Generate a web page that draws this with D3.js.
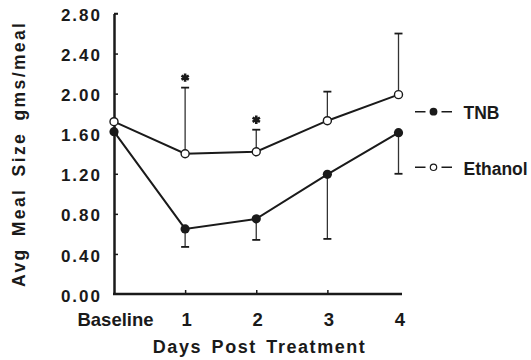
<!DOCTYPE html>
<html>
<head>
<meta charset="utf-8">
<script src="https://cdn.jsdelivr.net/npm/d3@7"></script>
<style>
  body { margin: 0; background: #fff; }
  svg { display: block; font-family: "Liberation Sans", Arial, sans-serif; font-weight: bold; }
  .axis path, .axis line { stroke: #1a1a1a; }
  .axis text { fill: #1a1a1a; font-weight: bold; }
</style>
</head>
<body>
<svg id="chart"></svg>
<script>
// data
const days = ['Baseline', '1', '2', '3', '4'];
const ethanol = [1.72, 1.40, 1.42, 1.73, 1.99];
const ethanolErrTop = [null, 2.06, 1.64, 2.02, 2.60];
const tnb = [1.62, 0.65, 0.75, 1.195, 1.61];
const tnbErrBottom = [null, 0.47, 0.54, 0.55, 1.20];
const significant = ['1', '2'];
const yTicks = [0, 0.4, 0.8, 1.2, 1.6, 2.0, 2.4, 2.8];
const seriesNames = ['TNB', 'Ethanol'];

const W = 531, H = 360;
const d3 = window.d3;
const svg = d3.select('#chart').attr('width', W).attr('height', H);

const margin = {top: 13.5, left: 114, bottom: 66};
const x = d3.scalePoint().domain(days).range([114, 398.5]);
const y = d3.scaleLinear().domain([0, 2.8]).range([294, 13.5]);

const ink = '#1a1a1a';

// y axis
const yAxis = svg.append('g')
    .attr('class', 'axis')
    .attr('transform', 'translate(' + margin.left + ',0)')
    .call(d3.axisLeft(y).tickValues(yTicks).tickFormat(d3.format('.2f'))
      .tickSizeInner(-4).tickSizeOuter(0).tickPadding(12));
yAxis.select('.domain').attr('stroke-width', 2.5);
yAxis.selectAll('.tick line').attr('stroke-width', 1.5)
    .filter(d => d === 0).remove();
yAxis.selectAll('.tick text')
    .attr('dy', '0.42em')
    .style('font-size', '17px')
    .style('letter-spacing', '2px');
// little hook at the top of the axis
yAxis.append('path')
    .attr('d', 'M0,' + y(2.8) + 'h4')
    .attr('stroke', ink).attr('stroke-width', 1.5);

// x axis
const xAxis = svg.append('g')
    .attr('class', 'axis')
    .attr('transform', 'translate(0,' + y(0) + ')')
    .call(d3.axisBottom(x).tickSizeInner(-4).tickSizeOuter(0).tickPadding(19));
xAxis.select('.domain')
    .attr('d', 'M' + (x('Baseline') - 1) + ',0H' + (x('4') + 3.5))
    .attr('stroke-width', 2.5);
xAxis.selectAll('.tick line').attr('stroke-width', 1.5)
    .filter(d => d === 'Baseline' || d === '4').remove();
xAxis.selectAll('.tick text')
    .attr('dx', 1)
    .style('font-size', '18.5px');

// axis titles
svg.append('text')
    .attr('x', 258.8).attr('y', 353)
    .attr('text-anchor', 'middle')
    .attr('textLength', 212).attr('lengthAdjust', 'spacing')
    .style('font-size', '18px').style('word-spacing', '3px').attr('fill', ink)
    .text('Days Post Treatment');
svg.append('text')
    .attr('transform', 'translate(25,155) rotate(-90)')
    .attr('text-anchor', 'middle')
    .attr('textLength', 264).attr('lengthAdjust', 'spacing')
    .style('font-size', '17.5px').style('word-spacing', '4px').attr('fill', ink)
    .text('Avg Meal Size gms/meal');

// error bars
function errorBars(vals, ends, cls) {
  const rows = days.map((d, i) => ({d, v: vals[i], e: ends[i]})).filter(r => r.e !== null);
  const g = svg.append('g').attr('class', cls);
  g.selectAll('line.stem').data(rows).join('line')
      .attr('class', 'stem')
      .attr('x1', r => x(r.d)).attr('x2', r => x(r.d))
      .attr('y1', r => y(r.v)).attr('y2', r => y(r.e))
      .attr('stroke', '#333').attr('stroke-width', 1.3);
  g.selectAll('line.cap').data(rows).join('line')
      .attr('class', 'cap')
      .attr('x1', r => x(r.d) - 4).attr('x2', r => x(r.d) + 4)
      .attr('y1', r => y(r.e)).attr('y2', r => y(r.e))
      .attr('stroke', ink).attr('stroke-width', 1.8);
  return rows;
}
const ethRows = errorBars(ethanol, ethanolErrTop, 'err-eth');
errorBars(tnb, tnbErrBottom, 'err-tnb');

// significance asterisks above ethanol caps
svg.append('g').selectAll('path')
    .data(ethRows.filter(r => significant.includes(r.d)))
    .join('path')
    .attr('d', d3.symbol(d3.symbolAsterisk, 50))
    .attr('transform', r => 'translate(' + x(r.d) + ',' + (y(r.e) - 10) + ')')
    .attr('stroke', ink).attr('stroke-width', 2.6).attr('fill', 'none');

// lines
const line = d3.line().x((v, i) => x(days[i])).y(v => y(v));
svg.append('path').datum(ethanol)
    .attr('d', line).attr('fill', 'none')
    .attr('stroke', ink).attr('stroke-width', 2);
svg.append('path').datum(tnb)
    .attr('d', line).attr('fill', 'none')
    .attr('stroke', ink).attr('stroke-width', 2);

// markers
svg.append('g').selectAll('circle').data(ethanol).join('circle')
    .attr('cx', (v, i) => x(days[i])).attr('cy', v => y(v))
    .attr('r', 4).attr('fill', '#fff')
    .attr('stroke', ink).attr('stroke-width', 1.4);
svg.append('g').selectAll('circle').data(tnb).join('circle')
    .attr('cx', (v, i) => x(days[i])).attr('cy', v => y(v))
    .attr('r', 4.6).attr('fill', ink);

// legend
const legendY = [111.7, 167.3];
const legend = svg.append('g').selectAll('g').data(seriesNames).join('g')
    .attr('transform', (d, i) => 'translate(415,' + legendY[i] + ')');
legend.append('path')
    .attr('d', 'M0,0h10.5M26.5,0h10.5')
    .attr('stroke', ink).attr('stroke-width', 1.6);
legend.append('circle')
    .attr('cx', 18.5).attr('cy', 0)
    .attr('r', d => d === 'TNB' ? 3.9 : 3.2)
    .attr('fill', d => d === 'TNB' ? ink : '#fff')
    .attr('stroke', ink).attr('stroke-width', d => d === 'TNB' ? 0 : 1.2);
legend.append('text')
    .attr('x', 48.5).attr('y', 7.5)
    .style('font-size', '17.5px').attr('fill', ink)
    .text(d => d);
</script>
</body>
</html>
